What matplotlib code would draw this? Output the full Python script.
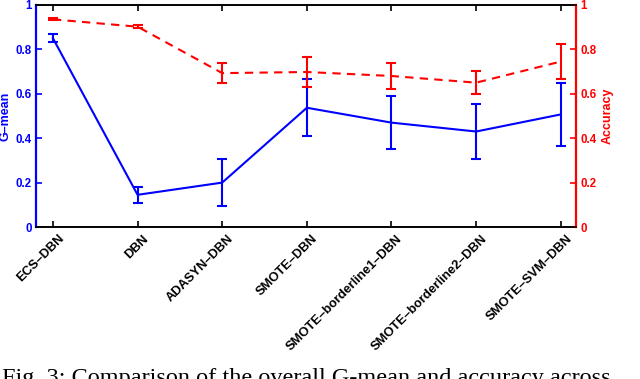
import matplotlib.pyplot as plt
import matplotlib.transforms as mtransforms
import numpy as np

# Methods compared
methods = ["ECS\u2013DBN", "DBN", "ADASYN\u2013DBN", "SMOTE\u2013DBN",
           "SMOTE\u2013borderline1\u2013DBN", "SMOTE\u2013borderline2\u2013DBN",
           "SMOTE\u2013SVM\u2013DBN"]

# G-mean (mean, std)
gmean = [0.85, 0.145, 0.20, 0.537, 0.47, 0.43, 0.507]
gmean_err = [0.018, 0.035, 0.107, 0.128, 0.12, 0.123, 0.14]

# Accuracy (mean, std)
accuracy = [0.935, 0.902, 0.693, 0.698, 0.68, 0.65, 0.745]
accuracy_err = [0.005, 0.008, 0.044, 0.066, 0.059, 0.052, 0.078]

yticks = [0, 0.2, 0.4, 0.6, 0.8, 1]
ytick_labels = ["0", "0.2", "0.4", "0.6", "0.8", "1"]

caption = "Fig. 3: Comparison of the overall G-mean and accuracy across"

plt.rcParams['font.family'] = ['Liberation Sans', 'DejaVu Sans']

fig = plt.figure(figsize=(6.4, 3.79), dpi=100)
ax = fig.add_axes([0.05625, 0.401, 0.84375, 0.586])
ax2 = ax.twinx()

x = np.arange(len(methods))

ax.errorbar(x, gmean, yerr=gmean_err, color=(0, 0, 1), lw=1.5,
            capsize=3.3, capthick=1.5, elinewidth=1.5)
ax2.errorbar(x, accuracy, yerr=accuracy_err, color=(1, 0, 0), lw=1.5,
             ls='--', dashes=(4, 3), capsize=3.3, capthick=1.5, elinewidth=1.5)

for a, c in ((ax, (0, 0, 1)), (ax2, (1, 0, 0))):
    a.set_ylim(0, 1)
    a.set_yticks(yticks)
    a.set_yticklabels(ytick_labels, fontsize=8.3, fontweight='bold', color=c)
    a.tick_params(axis='y', colors=c, direction='in', length=4, width=1.2, pad=3)

ax.set_xlim(-0.2, 6.18)
ax.set_xticks(x)
ax.set_xticklabels(methods, rotation=45, ha='right', va='top',
                   rotation_mode='anchor', fontsize=9.3, fontweight='bold')
ax.tick_params(axis='x', direction='in', length=4, width=1.2, top=True, pad=4)
shift = mtransforms.ScaledTranslation(5 / 100, 0, fig.dpi_scale_trans)
for lbl in ax.get_xticklabels():
    lbl.set_transform(lbl.get_transform() + shift)

for s in ('top', 'bottom'):
    ax.spines[s].set_linewidth(1.2)
    ax2.spines[s].set_linewidth(1.2)
ax2.spines['left'].set_visible(False)
ax.spines['right'].set_visible(False)
ax.spines['left'].set_color((0, 0, 1))
ax.spines['left'].set_linewidth(1.6)
ax2.spines['right'].set_color((1, 0, 0))
ax2.spines['right'].set_linewidth(1.6)

ax.set_ylabel("G\u2013mean", color=(0, 0, 1), fontsize=9, fontweight='bold', labelpad=3)
ax2.set_ylabel("Accuracy", color=(1, 0, 0), fontsize=9, fontweight='bold',
               rotation=90, labelpad=4)

fig.text(0.003, -0.013, caption, fontsize=17.5, family='Liberation Serif',
         va='baseline')

fig.savefig("out.png", dpi=100)
